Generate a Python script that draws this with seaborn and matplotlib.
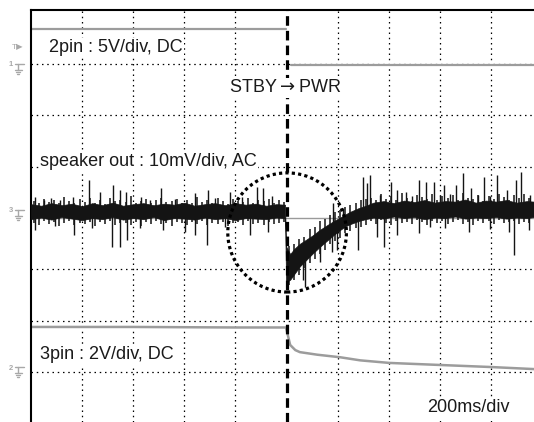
import matplotlib
matplotlib.use("Agg")
import matplotlib.pyplot as plt
from matplotlib.patches import Ellipse
from matplotlib.lines import Line2D
import seaborn as sns
import numpy as np
import pandas as pd

# all values in screen divisions (x: 0 = left edge, 5 = trigger; y: 0 = centre line)
pin2_pre_x = [0.0, 4.98]
pin2_pre_y = [3.68, 3.68]
pin2_post_x = [5.08, 9.84]
pin2_post_y = [2.97, 2.97]

pin3_x = [0.0, 2.0, 4.0, 4.99, 5.01, 5.07, 5.17, 5.26, 5.6, 6.05, 6.44, 7.01, 8.0, 9.0, 9.84]
pin3_y = [-2.12, -2.12, -2.13, -2.13, -2.22, -2.47, -2.57, -2.61, -2.66, -2.71, -2.77, -2.82, -2.86, -2.90, -2.94]

# speaker out: solid core of the noise band
band_x = [0.0, 0.2, 0.4, 0.6, 0.8, 1.0, 1.2, 1.4, 1.6, 1.8, 2.0, 2.2, 2.4, 2.6, 2.8,
          3.0, 3.2, 3.4, 3.6, 3.8, 4.0, 4.2, 4.4, 4.6, 4.8, 4.97,
          4.99, 5.07, 5.15, 5.26, 5.4, 5.52, 5.65, 5.79, 5.92, 6.05, 6.15, 6.24, 6.4, 6.55,
          6.7, 6.9, 7.1, 7.3, 7.5, 7.7, 7.9, 8.1, 8.3, 8.5, 8.7, 8.9, 9.1, 9.3, 9.5, 9.7, 9.84]
band_hi = [0.27, 0.24, 0.29, 0.25, 0.28, 0.23, 0.29, 0.25, 0.30, 0.24, 0.27, 0.29, 0.25, 0.28,
           0.26, 0.30, 0.24, 0.27, 0.29, 0.25, 0.29, 0.26, 0.28, 0.24, 0.27, 0.26,
           -0.55, -0.70, -0.60, -0.50, -0.41, -0.33, -0.23, -0.14, -0.06, 0.01, 0.07, 0.12, 0.19, 0.24,
           0.30, 0.33, 0.29, 0.34, 0.31, 0.35, 0.30, 0.33, 0.32, 0.36, 0.30, 0.34, 0.32, 0.35, 0.30, 0.33, 0.32]
band_lo = [-0.02, 0.01, -0.03, 0.02, -0.01, -0.04, 0.00, -0.02, 0.02, -0.03, 0.00, -0.02, 0.02, -0.04,
           0.00, -0.01, -0.03, 0.01, -0.02, 0.00, -0.04, 0.00, -0.01, -0.02, 0.01, 0.00,
           -1.25, -1.20, -1.09, -0.94, -0.80, -0.68, -0.56, -0.44, -0.33, -0.23, -0.16, -0.12, -0.06, -0.02,
           0.01, -0.01, 0.03, 0.00, 0.02, -0.02, 0.01, 0.00, 0.03, -0.01, 0.01, 0.00, 0.02, -0.01, 0.01, 0.00, 0.02]

# fine hair around the core, one every 0.1 div starting at 0.05
hair_top = [0.34, 0.29, 0.38, 0.31, 0.36, 0.30, 0.41, 0.33, 0.29, 0.37,
            0.32, 0.40, 0.30, 0.35, 0.28, 0.39, 0.33, 0.36, 0.31, 0.42,
            0.30, 0.34, 0.37, 0.29, 0.35, 0.40, 0.31, 0.33, 0.38, 0.30,
            0.36, 0.29, 0.41, 0.32, 0.35, 0.30, 0.39, 0.33, 0.28, 0.37,
            0.34, 0.31, 0.40, 0.29, 0.36, 0.33, 0.38, 0.30, 0.35, 0.32,
            -0.55, -0.50, -0.40, -0.36, -0.22, -0.18, -0.06, -0.02, 0.06, 0.12,
            0.15, 0.22, 0.26, 0.30, 0.35, 0.38,
            0.40, 0.35, 0.46, 0.38, 0.43, 0.36, 0.48, 0.39, 0.34, 0.45,
            0.41, 0.37, 0.47, 0.35, 0.42, 0.39, 0.44, 0.36, 0.49, 0.40,
            0.37, 0.45, 0.34, 0.43, 0.38, 0.46, 0.41, 0.36, 0.44, 0.39, 0.47, 0.40]
hair_bot = [-0.09, -0.14, -0.06, -0.12, -0.08, -0.15, -0.10, -0.05, -0.13, -0.09,
            -0.11, -0.07, -0.16, -0.08, -0.12, -0.06, -0.14, -0.10, -0.09, -0.13,
            -0.07, -0.15, -0.08, -0.11, -0.06, -0.12, -0.09, -0.16, -0.07, -0.10,
            -0.13, -0.08, -0.11, -0.05, -0.14, -0.09, -0.12, -0.07, -0.15, -0.10,
            -0.08, -0.13, -0.06, -0.11, -0.09, -0.14, -0.07, -0.12, -0.10, -0.08,
            -1.30, -1.20, -1.10, -0.98, -0.88, -0.80, -0.70, -0.62, -0.50, -0.44,
            -0.38, -0.30, -0.26, -0.20, -0.18, -0.14,
            -0.06, -0.11, -0.04, -0.09, -0.13, -0.05, -0.10, -0.07, -0.12, -0.04,
            -0.08, -0.14, -0.06, -0.10, -0.05, -0.12, -0.08, -0.03, -0.11, -0.07,
            -0.13, -0.05, -0.09, -0.06, -0.12, -0.04, -0.10, -0.08, -0.05, -0.11, -0.07, -0.09]

# larger spikes
spk_up_x = [0.08, 0.25, 0.39, 0.57, 0.82, 1.14, 1.35, 1.60, 1.74, 1.86, 2.15, 2.33, 2.54, 2.82,
            3.21, 3.46, 3.60, 3.89, 4.13, 4.42, 4.54, 4.72, 5.91, 6.10,
            6.50, 6.58, 6.63, 6.83, 7.05, 7.16, 7.34, 7.46, 7.59, 7.73, 7.89, 8.00, 8.08, 8.20,
            8.32, 8.45, 8.61, 8.75, 8.86, 8.98, 9.12, 9.32, 9.49, 9.59, 9.77]
spk_up_top = [0.41, 0.35, 0.39, 0.35, 0.41, 0.74, 0.51, 0.64, 0.55, 0.51, 0.41, 0.35, 0.58, 0.37,
              0.49, 0.55, 0.39, 0.51, 0.41, 0.60, 0.58, 0.43, 0.29, 0.20,
              0.80, 0.68, 0.84, 0.45, 0.70, 0.55, 0.51, 0.43, 0.74, 0.70, 0.70, 0.45, 0.64, 0.47,
              0.64, 0.88, 0.58, 0.45, 0.80, 0.43, 0.84, 0.55, 0.74, 0.90, 0.45]
spk_dn_x = [0.08, 0.47, 0.84, 1.19, 1.59, 1.74, 1.88, 2.13, 2.58, 3.01, 3.21, 3.44, 3.80,
            4.29, 4.64, 5.32, 5.36, 5.66, 5.89, 5.99, 6.40,
            6.77, 6.91, 7.16, 7.59, 7.80, 8.10, 8.57, 8.98, 9.35, 9.45, 9.75]
spk_dn_bot = [-0.23, -0.16, -0.33, -0.19, -0.56, -0.56, -0.43, -0.19, -0.23, -0.27, -0.33, -0.53, -0.18,
              -0.33, -0.27, -1.21, -1.34, -0.86, -0.66, -0.62, -0.62,
              -0.37, -0.56, -0.33, -0.29, -0.18, -0.19, -0.27, -0.21, -0.27, -0.72, -0.23]

trigger_x = 5.0
circle_center = (5.01, -0.28)
circle_radius = 1.16

labels = ["2pin : 5V/div, DC", "STBY$\\rightarrow$PWR", "speaker out : 10mV/div, AC",
          "3pin : 2V/div, DC", "200ms/div"]
ground_marks = [("1", 67), ("3", 213), ("2", 370)]  # channel, pixel row

sns.set_style("white")
plt.rcParams["font.family"] = ["Liberation Sans", "DejaVu Sans"]
plt.rcParams["mathtext.fontset"] = "dejavusans"

fig = plt.figure(figsize=(5.34, 4.22), dpi=100)
ax = fig.add_axes([31 / 534, 0, 503 / 534, 412 / 422])
ax.set_xlim(0, 9.84)
ax.set_ylim(-3.97, 4.05)

# graticule
dots = (0, (1.2, 3.0))
ax.vlines([1, 2, 3, 4, 6, 7, 8, 9], -3.97, 4.05, colors="black", linewidth=0.9,
          linestyles=[dots], zorder=1)
ax.hlines([-3, -2, -1, 1, 2, 3], 0, 9.84, colors="black", linewidth=0.9,
          linestyles=[dots], zorder=1)
ax.axhline(0, color="#9a9a9a", linewidth=1.0, zorder=1)

trace_gray = "#9c9c9c"
sns.lineplot(x=pin2_pre_x, y=pin2_pre_y, ax=ax, color=trace_gray, linewidth=1.6,
             estimator=None, sort=False, zorder=2)
sns.lineplot(x=pin2_post_x, y=pin2_post_y, ax=ax, color=trace_gray, linewidth=1.6,
             estimator=None, sort=False, zorder=2)
pin3 = pd.DataFrame({"t": pin3_x, "v": pin3_y})
sns.lineplot(data=pin3, x="t", y="v", ax=ax, color=trace_gray, linewidth=1.8,
             estimator=None, sort=False, zorder=2)

# speaker out noise
ink = "#141414"
ax.fill_between(band_x, band_lo, band_hi, color=ink, linewidth=0.5, edgecolor=ink, zorder=3)
hair_x = np.round(np.arange(len(hair_top)) * 0.1 + 0.05, 2)
ax.vlines(hair_x, hair_bot, hair_top, colors=ink, linewidth=1.1, zorder=3)
mid = (np.array(band_hi) + np.array(band_lo)) / 2
up_base = np.interp(spk_up_x, band_x, mid)
dn_base = np.interp(spk_dn_x, band_x, mid)
ax.vlines(spk_up_x, up_base, spk_up_top, colors=ink, linewidth=1.0, zorder=3)
ax.vlines(spk_dn_x, dn_base, spk_dn_bot, colors=ink, linewidth=1.0, zorder=3)

# trigger marker line and circle
ax.axvline(trigger_x, color="black", linewidth=2.3, linestyle=(0, (3, 1.6)), zorder=4)
ax.add_patch(Ellipse(circle_center, 2 * circle_radius, 2 * circle_radius, fill=False,
                     edgecolor="black", linewidth=2.3, linestyle=(0, (1.0, 1.0)), zorder=5))

box = dict(facecolor="white", edgecolor="none", pad=1.0)
ax.text(0.35, 3.32, labels[0], fontsize=13, color="#1a1a1a", va="center", bbox=box, zorder=6)
ax.text(3.87, 2.54, labels[1], fontsize=13, color="#1a1a1a", va="center", bbox=box, zorder=6)
ax.text(0.18, 1.11, labels[2], fontsize=13, color="#1a1a1a", va="center", bbox=box, zorder=6)
ax.text(0.18, -2.66, labels[3], fontsize=13, color="#1a1a1a", va="center", bbox=box, zorder=6)
ax.text(7.75, -3.69, labels[4], fontsize=13, color="#1a1a1a", va="center", bbox=box, zorder=6)

# left-side channel markers: trigger level and ground symbols
mk = "#a8a8a8"
fig.text(12 / 534, 1 - 48 / 422, "T\u25b6", fontsize=6, color=mk, va="center")


def px(x, y):
    return x / 534, 1 - y / 422


for num, row in ground_marks:
    fig.text(*px(11, row - 2), num, fontsize=5.5, color=mk, va="center", ha="center",
             fontweight="bold")
    segs = [((15, row - 3), (24, row - 3)), ((18, row - 3), (18, row + 3)),
            ((14.5, row + 3), (21.5, row + 3)), ((16, row + 5), (20, row + 5)),
            ((17.2, row + 7), (18.8, row + 7))]
    for (x0, y0), (x1, y1) in segs:
        a, b = px(x0, y0), px(x1, y1)
        fig.add_artist(Line2D([a[0], b[0]], [a[1], b[1]], color=mk, linewidth=1.0))

ax.set_xticks([])
ax.set_yticks([])
ax.set_xlabel("")
ax.set_ylabel("")
for side in ["right", "bottom"]:
    ax.spines[side].set_visible(False)
for side in ["left", "top"]:
    ax.spines[side].set_color("black")
    ax.spines[side].set_linewidth(1.5)

fig.savefig("out.png", dpi=100)
